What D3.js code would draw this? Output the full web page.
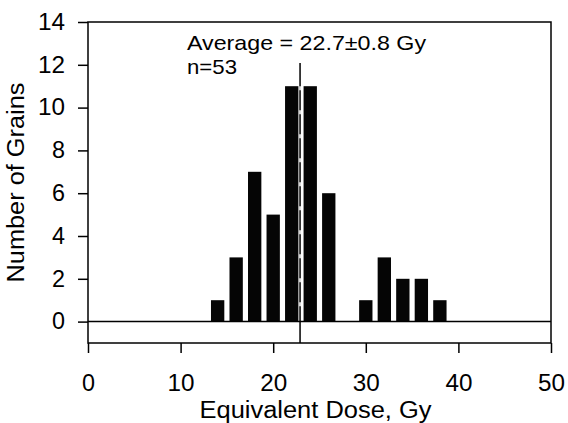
<!DOCTYPE html>
<html>
<head>
<meta charset="utf-8">
<script src="https://cdnjs.cloudflare.com/ajax/libs/d3/7.8.5/d3.min.js"></script>
<style>
  body { margin: 0; background: #fff; }
  svg text { font-family: "Liberation Sans", Arial, Helvetica, sans-serif; fill: #000; }
  .tickLabel { font-size: 23px; }
  .title { font-size: 23px; }
  .note { font-size: 21px; }
</style>
</head>
<body>
<div id="chart"></div>
<script>
// histogram data (bin centres in Gy, number of grains)
var binCenters = [14, 16, 18, 20, 22, 24, 26, 28, 30, 32, 34, 36, 38];
var grainCounts = [1, 3, 7, 5, 11, 11, 6, 0, 1, 3, 2, 2, 1];
var xTickValues = [0, 10, 20, 30, 40, 50];
var yTickValues = [0, 2, 4, 6, 8, 10, 12, 14];
var averageDose = 22.9;
var noteLines = ["Average = 22.7\u00b10.8 Gy", "n=53"];

var margin = {top: 22, right: 17, bottom: 80, left: 88};
var width = 568, height = 423;
var binWidth = 1.44;

var svg = d3.select("#chart").append("svg")
    .attr("width", width)
    .attr("height", height);

var x = d3.scaleLinear()
    .domain([0, 50])
    .range([margin.left, width - margin.right]);

var y = d3.scaleLinear()
    .domain([-1, 14])
    .range([height - margin.bottom, margin.top]);

var data = binCenters.map((c, i) => ({center: c, count: grainCounts[i]}));

// bars
svg.selectAll("rect.bar")
    .data(data.filter(d => d.count > 0))
    .enter()
    .append("rect")
    .attr("class", "bar")
    .attr("x", d => x(d.center - binWidth / 2))
    .attr("width", d => x(d.center + binWidth / 2) - x(d.center - binWidth / 2))
    .attr("y", d => y(d.count))
    .attr("height", d => y(0) - y(d.count))
    .style("fill", "#050505");

// frame + zero line
svg.append("rect")
    .attr("x", x(0))
    .attr("y", y(14))
    .attr("width", x(50) - x(0))
    .attr("height", y(-1) - y(14))
    .style("fill", "none")
    .style("stroke", "#000")
    .style("stroke-width", 1.5);

svg.append("line")
    .attr("x1", x(0)).attr("x2", x(50))
    .attr("y1", y(0)).attr("y2", y(0))
    .style("stroke", "#000")
    .style("stroke-width", 1.5);

// average line: solid, with white breaks where it runs through the bars
svg.append("line")
    .attr("x1", x(averageDose)).attr("x2", x(averageDose))
    .attr("y1", 63).attr("y2", y(-1))
    .style("stroke", "#000")
    .style("stroke-width", 1.5);

svg.append("line")
    .attr("x1", x(averageDose)).attr("x2", x(averageDose))
    .attr("y1", y(11)).attr("y2", y(0))
    .style("stroke", "#fff")
    .style("stroke-width", 1.6)
    .style("stroke-dasharray", "4,20");

// axes
var xAxis = d3.axisBottom(x)
    .tickValues(xTickValues)
    .tickSize(10)
    .tickPadding(22)
    .tickFormat(d3.format("d"));

var yAxis = d3.axisLeft(y)
    .tickValues(yTickValues)
    .tickSize(10)
    .tickPadding(13)
    .tickFormat(d3.format("d"));

var gx = svg.append("g")
    .attr("transform", `translate(0, ${y(-1)})`)
    .call(xAxis);

var gy = svg.append("g")
    .attr("transform", `translate(${x(0)}, 0)`)
    .call(yAxis);

[gx, gy].forEach(g => {
    g.attr("font-size", null).attr("font-family", null);
    g.select(".domain").remove();
    g.selectAll(".tick line").style("stroke", "#000").style("stroke-width", 1.5);
    g.selectAll(".tick text")
        .attr("class", "tickLabel")
        .attr("textLength", d => d < 10 ? 13 : 27)
        .attr("lengthAdjust", "spacingAndGlyphs");
});

// titles
svg.append("text")
    .attr("class", "title")
    .attr("x", (x(0) + x(50)) / 2 - 4)
    .attr("y", 418)
    .attr("textLength", 232)
    .attr("lengthAdjust", "spacingAndGlyphs")
    .style("text-anchor", "middle")
    .text("Equivalent Dose, Gy");

svg.append("text")
    .attr("class", "title")
    .attr("transform", `translate(24, ${(y(14) + y(-1)) / 2}) rotate(-90)`)
    .attr("textLength", 200)
    .attr("lengthAdjust", "spacingAndGlyphs")
    .style("text-anchor", "middle")
    .text("Number of Grains");

// annotation
svg.selectAll("text.note")
    .data(noteLines)
    .enter()
    .append("text")
    .attr("class", "note")
    .attr("x", 187)
    .attr("y", (d, i) => 50 + i * 24)
    .attr("textLength", (d, i) => i === 0 ? 239 : 50)
    .attr("lengthAdjust", "spacingAndGlyphs")
    .text(d => d);
</script>
</body>
</html>
